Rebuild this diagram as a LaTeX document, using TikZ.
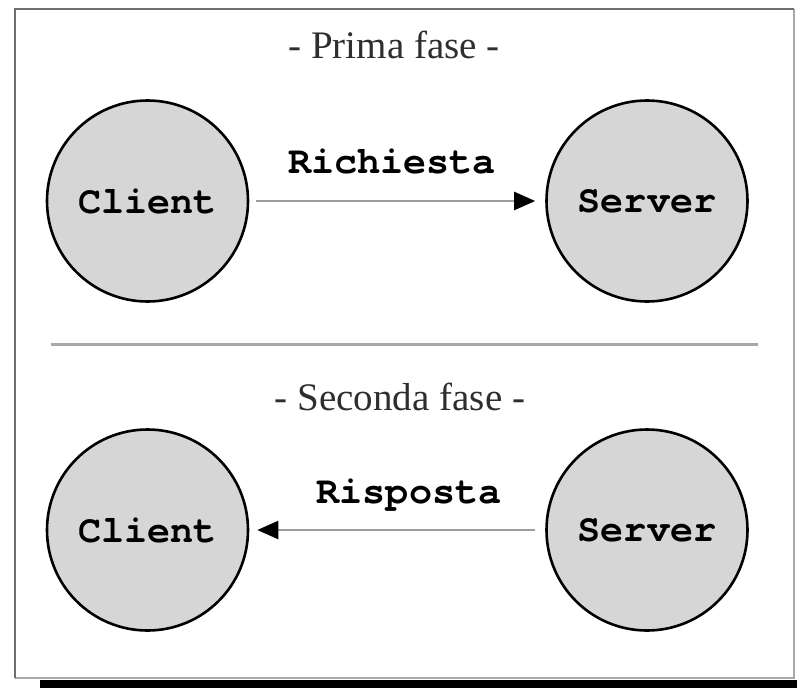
\documentclass[tikz,border=0pt]{standalone}
\usepackage{fontspec}
\setmainfont{Liberation Serif}
\newfontfamily\courfont{TeX Gyre Cursor}
\usetikzlibrary{arrows.meta}
\definecolor{nodefill}{HTML}{D6D6D6}
\definecolor{arrowgray}{HTML}{9C9C9C}
\definecolor{framedark}{HTML}{6E6E6E}
\definecolor{framelight}{HTML}{A8A8A8}
\definecolor{titlegray}{HTML}{2E2E2E}
\tikzset{
  party/.style={circle, draw=black, line width=2.6pt, fill=nodefill, minimum size=201pt, inner sep=0pt,
    font=\courfont\bfseries\fontsize{38.5}{40}\selectfont},
  msglabel/.style={anchor=base, inner sep=0pt, font=\courfont\bfseries\fontsize{38.5}{40}\selectfont},
  phase/.style={anchor=base, inner sep=0pt, text=titlegray, font=\fontsize{39}{40}\selectfont},
  msgarrow/.style={draw=arrowgray, line width=2.4pt, -{Triangle[length=21pt,width=18pt,color=black]}}
}
\begin{document}
\begin{tikzpicture}[x=1pt,y=-1pt]
\useasboundingbox (0,0) rectangle (797,688);
% frame
\fill[white] (15,9) rectangle (794,678);
\draw[framelight, line width=1.6pt] (794,9) -- (794,678) -- (15,678);
\draw[framedark, line width=2.2pt] (15,678) -- (15,9) -- (794,9);
\fill[black] (40,679.5) rectangle (797,688);
% separator
\draw[framelight, line width=3pt] (51,344) -- (758,344);
% titles
\node[phase] (t1) at (394,58) {- Prima fase -};
\node[phase] (t2) at (400,410) {- Seconda fase -};
% first phase
\node[party] (c1) at (147.5,201) {Client};
\node[party] (s1) at (647,201) {Server};
\draw[msgarrow, shorten <=7pt, shorten >=10pt] (c1.east) -- (s1.west);
\node[msglabel] (l1) at (392,173) {Richiesta};
% second phase
\node[party] (c2) at (147.5,530) {Client};
\node[party] (s2) at (647,530) {Server};
\draw[msgarrow, shorten <=10pt, shorten >=8pt] (s2.west) -- (c2.east);
\node[msglabel] (l2) at (409,503) {Risposta};
\end{tikzpicture}
\end{document}
